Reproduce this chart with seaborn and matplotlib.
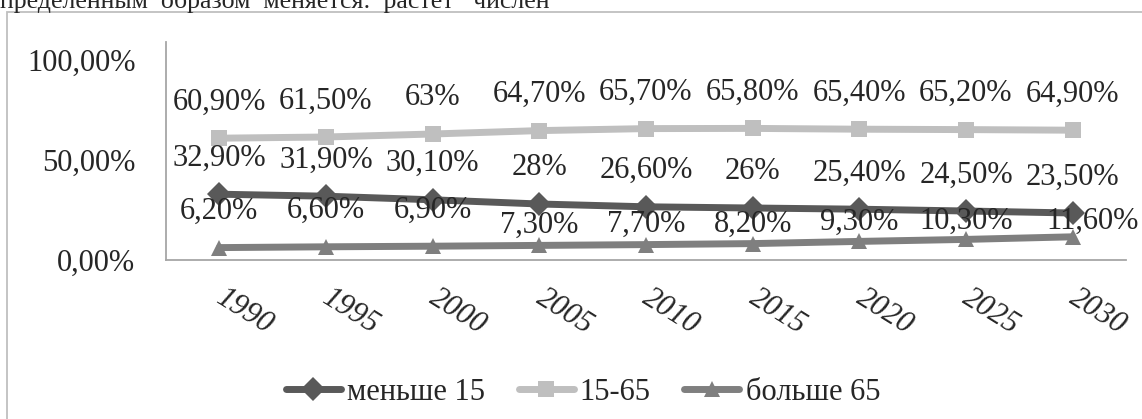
import matplotlib
matplotlib.use("Agg")
import matplotlib.pyplot as plt
import matplotlib.transforms as mtransforms
from matplotlib.patches import Rectangle
import seaborn as sns
import pandas as pd

# ---- data ----
years = ["1990", "1995", "2000", "2005", "2010", "2015", "2020", "2025", "2030"]
series_names = ["меньше 15", "15-65", "больше 65"]
under15 = [32.9, 31.9, 30.1, 28.0, 26.6, 26.0, 25.4, 24.5, 23.5]
age15_65 = [60.9, 61.5, 63.0, 64.7, 65.7, 65.8, 65.4, 65.2, 64.9]
over65 = [6.2, 6.6, 6.9, 7.3, 7.7, 8.2, 9.3, 10.3, 11.6]
labels_under15 = ["32,90%", "31,90%", "30,10%", "28%", "26,60%", "26%", "25,40%", "24,50%", "23,50%"]
labels_15_65 = ["60,90%", "61,50%", "63%", "64,70%", "65,70%", "65,80%", "65,40%", "65,20%", "64,90%"]
labels_over65 = ["6,20%", "6,60%", "6,90%", "7,30%", "7,70%", "8,20%", "9,30%", "10,30%", "11,60%"]
ytick_vals = [0, 50, 100]
ytick_labels = ["0,00%", "50,00%", "100,00%"]
header_text = "пределенным  образом  меняется:  растет   числен"

sns.set_style("white")
plt.rcParams["font.family"] = ["Liberation Serif", "DejaVu Serif"]

W, H = 1142, 419
fig = plt.figure(figsize=(W / 100, H / 100), dpi=100)
ax = fig.add_axes([166 / W, 1 - 260 / H, 960 / W, 218 / H])

df = pd.DataFrame({
    "year": years * 3,
    "value": under15 + age15_65 + over65,
    "series": [series_names[0]] * 9 + [series_names[1]] * 9 + [series_names[2]] * 9,
})
palette = {"меньше 15": "#595959", "15-65": "#bfbfbf", "больше 65": "#7f7f7f"}
markers = {"меньше 15": "D", "15-65": "s", "больше 65": "^"}
msize = {"меньше 15": 14, "15-65": 14, "больше 65": 15}
zord = {"меньше 15": 3, "15-65": 2, "больше 65": 2.5}

for name in series_names:
    sub = df[df["series"] == name]
    sns.lineplot(data=sub, x="year", y="value", ax=ax, color=palette[name],
                 marker=markers[name], markersize=msize[name], markeredgewidth=0,
                 linewidth=5, sort=False, label=name, zorder=zord[name])

ax.set_xlim(-0.5, 8.5)
ax.set_ylim(0, 109)
ax.set_xlabel("")
ax.set_ylabel("")
for s in ["top", "right"]:
    ax.spines[s].set_visible(False)
for s in ["left", "bottom"]:
    ax.spines[s].set_color("#a6a6a6")
    ax.spines[s].set_linewidth(1.3)

ax.set_yticks(ytick_vals)
ax.set_yticklabels(ytick_labels, fontsize=22)
ax.tick_params(axis="y", length=0, pad=22)
ax.set_xticks(range(len(years)))
ax.set_xticklabels(years, fontsize=22, style="italic", rotation=-32,
                   ha="left", va="top", rotation_mode="anchor")
ax.tick_params(axis="x", length=0, pad=17)
off = mtransforms.ScaledTranslation(7 / 100, 0, fig.dpi_scale_trans)
for lbl in ax.get_xticklabels():
    lbl.set_transform(lbl.get_transform() + off)

# data labels (offsets in points above marker)
off_mid = [26] * 9
off_u15 = [26] * 9
off_o65 = [26, 26, 26, 14.5, 14.5, 14, 14, 13, 11]
dx_o65 = [0, 0, 0, 0, 0, 0, 0, 0, 14]
for i in range(len(years)):
    ax.annotate(labels_15_65[i], (i, age15_65[i]), xytext=(0, off_mid[i]),
                textcoords="offset points", ha="center", va="center", fontsize=22, zorder=5)
    ax.annotate(labels_under15[i], (i, under15[i]), xytext=(0, off_u15[i]),
                textcoords="offset points", ha="center", va="center", fontsize=22, zorder=5)
    ax.annotate(labels_over65[i], (i, over65[i]), xytext=(dx_o65[i], off_o65[i]),
                textcoords="offset points", ha="center", va="center", fontsize=22, zorder=5)

handles, labs = ax.get_legend_handles_labels()
if ax.get_legend():
    ax.get_legend().remove()
for h in handles:
    h.set_markersize(12)
fig.legend(handles, labs, loc="center", bbox_to_anchor=(583 / W, 1 - 392 / H),
           ncol=3, frameon=False, fontsize=22, handlelength=1.8, handletextpad=0.2,
           columnspacing=1.1, borderaxespad=0)

# outer chart frame and cropped document text
fig.add_artist(Rectangle((7 / W, -0.2), 1.2, 1.2 - 12 / H, transform=fig.transFigure,
                         fill=False, ec="#bfbfbf", lw=1.3))
fig.text(0, 1 - 8 / H, header_text, ha="left", va="baseline", fontsize=18.6)

fig.savefig("out.png", dpi=100)
